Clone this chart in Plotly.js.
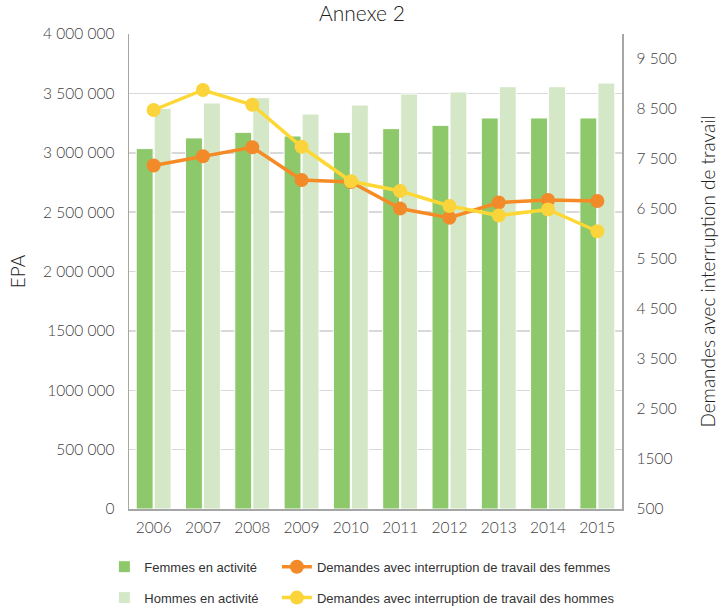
<!DOCTYPE html>
<html><head><meta charset="utf-8">
<script src="https://cdn.plot.ly/plotly-3.0.1.min.js"></script>
<style>body{margin:0;background:#fff}#chart{width:724px;height:606px}</style>
</head><body><div id="chart"></div>
<script>
const years = ['2006','2007','2008','2009','2010','2011','2012','2013','2014','2015'];
const femmesActivite = [3035000,3125000,3172000,3141000,3172000,3203000,3231000,3293000,3293000,3293000];
const hommesActivite = [3374000,3419000,3464000,3326000,3402000,3495000,3512000,3556000,3556000,3587000];
const demandesFemmes = [7370,7555,7735,7080,7040,6510,6325,6630,6680,6660];
const demandesHommes = [8480,8880,8585,7745,7055,6860,6560,6370,6490,6055];
const leftTicks = [0,500000,1000000,1500000,2000000,2500000,3000000,3500000,4000000];
const leftTickText = ['0','500 000','1000 000','1500 000','2 000 000','2 500 000','3 000 000','3 500 000','4 000 000'];
const rightTicks = [500,1500,2500,3500,4500,5500,6500,7500,8500,9500];
const rightTickText = ['500','1500','2 500','3 500','4 500','5 500','6 500','7 500','8 500','9 500'];

const font = 'Lato, "Open Sans", sans-serif';
const tickFont = {family:font, size:15.5, color:'#404040', weight:300};
const traces = [
  {type:'bar', x:years, y:femmesActivite, name:'Femmes en activité', legend:'legend', legendgroup:'a',
   marker:{color:'#8dc86a', line:{color:'#ffffff', width:1}}, hoverinfo:'y'},
  {type:'scatter', mode:'lines+markers', x:years, y:demandesFemmes, yaxis:'y2', name:'Demandes avec interruption de travail des femmes',
   legend:'legend2', legendgroup:'c', line:{color:'#f68b25', width:3.5}, marker:{color:'#f28a2a', size:14}},
  {type:'bar', x:years, y:hommesActivite, name:'Hommes en activité', legend:'legend', legendgroup:'b',
   marker:{color:'#d4e8c8', line:{color:'#ffffff', width:1}}, hoverinfo:'y'},
  {type:'scatter', mode:'lines+markers', x:years, y:demandesHommes, yaxis:'y2', name:'Demandes avec interruption de travail des hommes',
   legend:'legend2', legendgroup:'d', line:{color:'#fdd835', width:3.5}, marker:{color:'#fbd33a', size:14}}
];
const legendCommon = {orientation:'v', yanchor:'top', y:-0.09, xanchor:'left', tracegroupgap:11,
  font:{family:'"Liberation Sans", Arial, sans-serif', size:13, color:'#333'}, bgcolor:'rgba(0,0,0,0)'};
const layout = {
  width:724, height:606,
  margin:{l:129, r:102, t:34, b:97, autoexpand:false},
  paper_bgcolor:'#fff', plot_bgcolor:'#fff',
  font:{family:font, color:'#404040'},
  title:{text:'Annexe 2', font:{family:font, size:21, color:'#222', weight:300}, x:0.5, xanchor:'center', y:0.99, yanchor:'top'},
  barmode:'group', bargap:0.27, bargroupgap:0.06,
  showlegend:true,
  legend:Object.assign({}, legendCommon, {x:-0.05}),
  legend2:Object.assign({}, legendCommon, {x:0.30}),
  xaxis:{type:'category', range:[-0.5, 9.5], autorange:false, showline:true, linecolor:'#a6a6a6', linewidth:1.5, ticks:'', tickfont:tickFont, showgrid:false, ticklabelstandoff:4},
  yaxis:{range:[0,4000000], tickvals:leftTicks, ticktext:leftTickText, showline:true, linecolor:'#a6a6a6', linewidth:1.5,
    showgrid:true, gridcolor:'#d9d9d9', gridwidth:1.5, zeroline:false, tickfont:tickFont, ticklabelstandoff:10,
    title:{text:'EPA', font:{family:font, size:19, color:'#222', weight:300}, standoff:12}},
  yaxis2:{overlaying:'y', side:'right', range:[500,10000], tickvals:rightTicks, ticktext:rightTickText, showline:true,
    linecolor:'#a6a6a6', linewidth:1.5, showgrid:false, zeroline:false, tickfont:tickFont, ticklabelstandoff:10,
    title:{text:'Demandes avec interruption de travail', font:{family:font, size:19, color:'#222', weight:300}, standoff:26}}
};
Plotly.newPlot('chart', traces, layout, {displayModeBar:false, staticPlot:true});
</script></body></html>
